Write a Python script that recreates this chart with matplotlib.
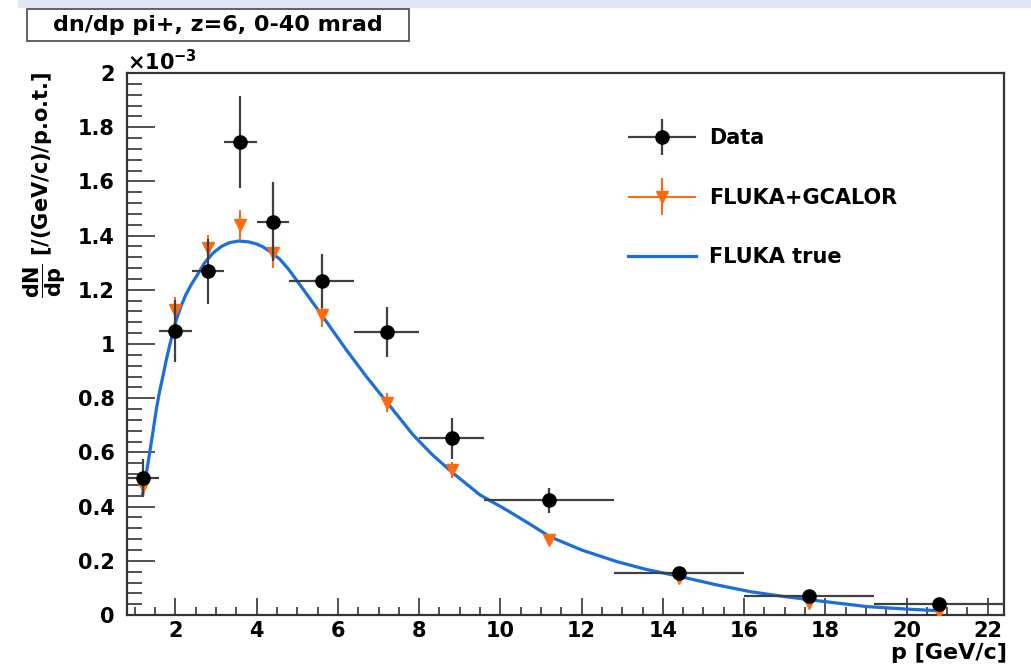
import numpy as np
import matplotlib
matplotlib.use("Agg")
import matplotlib.pyplot as plt
from matplotlib.ticker import MultipleLocator, FuncFormatter
from matplotlib.patches import Rectangle
from matplotlib.legend_handler import HandlerErrorbar
from matplotlib.container import ErrorbarContainer

plt.rcParams['font.family'] = ['DejaVu Sans']
plt.rcParams['font.weight'] = 'bold'
plt.rcParams['mathtext.fontset'] = 'dejavusans'

# data in units of 1e-3
p_data = [1.2, 2.0, 2.8, 3.6, 4.4, 5.6, 7.2, 8.8, 11.2, 14.4, 17.6, 20.8]
p_half = [0.4, 0.4, 0.4, 0.4, 0.4, 0.8, 0.8, 0.8, 1.6, 1.6, 1.6, 1.6]
dndp_data = [0.507, 1.049, 1.268, 1.744, 1.451, 1.232, 1.045, 0.652, 0.424, 0.156, 0.070, 0.040]
dndp_err = [0.07, 0.115, 0.12, 0.17, 0.145, 0.10, 0.092, 0.076, 0.046, 0.012, 0.008, 0.006]

dndp_gcalor = [0.475, 1.125, 1.353, 1.439, 1.335, 1.107, 0.783, 0.535, 0.277, 0.135, 0.045, 0.012]
gcalor_err = [0.03, 0.05, 0.05, 0.055, 0.055, 0.045, 0.035, 0.03, 0.015, 0.01, 0.006, 0.004]

p_true = [1.19, 1.28, 1.36, 1.45, 1.53, 1.61, 1.69, 1.77, 1.85, 1.93, 2.02, 2.13, 2.25, 2.38,
          2.51, 2.72, 2.92, 3.13, 3.33, 3.55, 3.8, 4.0, 4.15, 4.35, 4.57, 4.78, 4.98, 5.3, 5.63,
          6.2, 6.7, 7.24, 7.85, 8.3, 8.8, 9.5, 10.16, 10.7, 11.22, 12.0, 12.87, 13.6, 14.43,
          15.3, 16.16, 17.0, 17.8, 19.03, 20.0, 20.76]
dndp_true = [0.443, 0.52, 0.594, 0.68, 0.76, 0.825, 0.88, 0.938, 0.99, 1.04, 1.089, 1.137, 1.18, 1.217,
             1.248, 1.30, 1.335, 1.36, 1.374, 1.38, 1.377, 1.369, 1.359, 1.339, 1.313, 1.277, 1.236,
             1.17, 1.101, 0.98, 0.88, 0.779, 0.665, 0.595, 0.528, 0.443, 0.387, 0.338, 0.289,
             0.24, 0.197, 0.168, 0.142, 0.112, 0.086, 0.068, 0.053, 0.031, 0.022, 0.016]

fig = plt.figure(figsize=(10.31, 6.68), dpi=100)
ax = fig.add_axes([0.1229, 0.0793, 0.8509, 0.8114])

# window strip on top
fig.patches.append(Rectangle((18 / 1031, 1 - 7 / 668), 1, 7 / 668, transform=fig.transFigure,
                             color='#dfe7f2', zorder=0))

ax.plot(p_true, dndp_true, color='#1c6fd8', lw=2.3, label='FLUKA true', zorder=2)

ax.errorbar(p_data, dndp_gcalor, yerr=gcalor_err, xerr=np.zeros(len(p_data)), fmt='v',
            color='#ff6a10', ms=8.5, elinewidth=1.5, capsize=0, label='FLUKA+GCALOR', zorder=3)

ax.errorbar(p_data, dndp_data, yerr=dndp_err, xerr=p_half, fmt='o', color='black',
            ecolor='#404040', ms=9.5, elinewidth=1.6, capsize=0, label='Data', zorder=4)

ax.set_xlim(0.8, 22.4)
ax.set_ylim(0, 2.0)

ax.xaxis.set_major_locator(MultipleLocator(2))
ax.xaxis.set_minor_locator(MultipleLocator(0.5))
ax.yaxis.set_major_locator(MultipleLocator(0.2))
ax.yaxis.set_minor_locator(MultipleLocator(0.04))
ax.yaxis.set_major_formatter(FuncFormatter(lambda v, pos: f"{v:g}"))
ax.tick_params(direction='in', which='both', top=False, right=False, labelsize=15,
               width=1.2, color='#333333')
ax.tick_params(axis='y', which='major', length=20, pad=8.5)
ax.tick_params(axis='y', which='minor', length=10.5)
ax.tick_params(axis='x', which='major', length=12, pad=4)
ax.tick_params(axis='x', which='minor', length=5.5)
for s in ax.spines.values():
    s.set_linewidth(1.6)
    s.set_color('#333333')

fig.text(127 / 1031, 1 - 70 / 668, r"$\times10^{-3}$", fontsize=15, ha='left', va='baseline')

ax.text(-0.094, 1.002, r"$\dfrac{\mathbf{dN}}{\mathbf{dp}}$ [/(GeV/c)/p.o.t.]", transform=ax.transAxes,
        rotation=90, ha='center', va='top', fontsize=15)
ax.text(1.004, -0.052, "p [GeV/c]", transform=ax.transAxes, ha='right', va='top', fontsize=16)

fig.patches.append(Rectangle((27 / 1031, 1 - 41 / 668), 382 / 1031, 32 / 668,
                             transform=fig.transFigure, fc='white', ec='#555555', lw=1.3))
fig.text(218 / 1031, 1 - 25 / 668, "dn/dp pi+, z=6, 0-40 mrad", ha='center', va='center',
         fontsize=16)

h, l = ax.get_legend_handles_labels()
order = [2, 1, 0]
ax.legend([h[i] for i in order], [l[i] for i in order], loc='upper left',
          bbox_to_anchor=(0.571, 0.898), frameon=False, fontsize=15, labelspacing=1.9,
          handlelength=3.3, handletextpad=0.6, borderpad=0, borderaxespad=0,
          handler_map={ErrorbarContainer: HandlerErrorbar(xerr_size=1.63, yerr_size=0.87)})

fig.savefig("out.png", dpi=100)
